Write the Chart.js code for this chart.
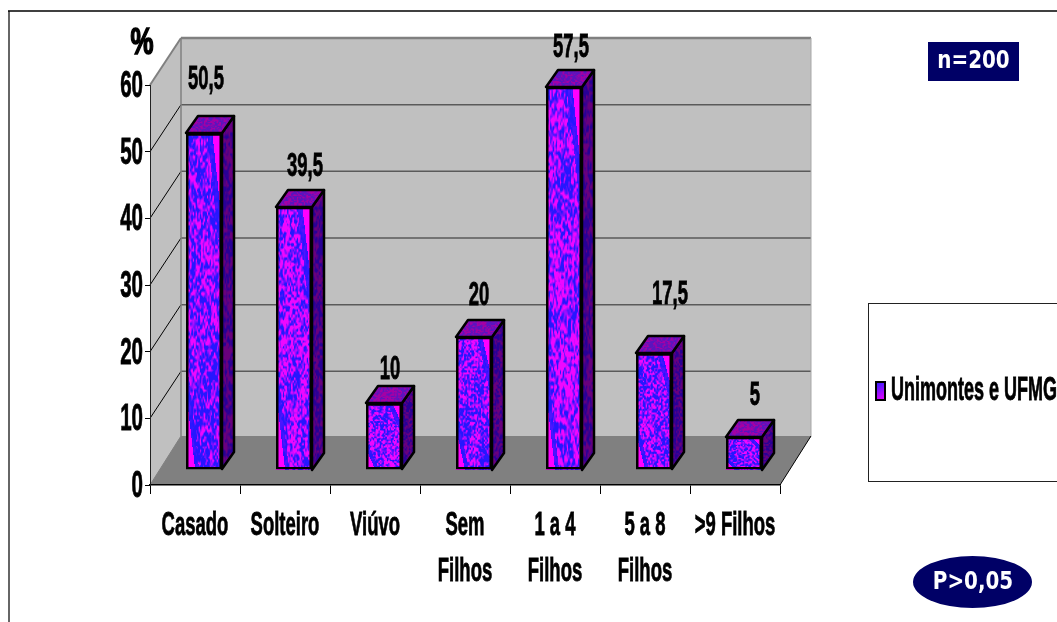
<!DOCTYPE html>
<html lang="pt-BR">
<head>
    <meta charset="UTF-8">
    <title>Unimontes e UFMG</title>
    <script src="https://cdn.jsdelivr.net/npm/chart.js"></script>
    <style>
        html, body { margin: 0; padding: 0; background: #fff; overflow: hidden; }
        canvas { display: block; }
    </style>
</head>
<body>
    <canvas id="myChart" width="1057" height="622"></canvas>

    <script>
        // dados
        const categories = ['Casado', 'Solteiro', 'Viúvo', ['Sem', 'Filhos'], ['1 a 4', 'Filhos'], ['5 a 8', 'Filhos'], '>9 Filhos'];
        const values = [50.5, 39.5, 10, 20, 57.5, 17.5, 5];
        const seriesName = 'Unimontes e UFMG';
        const yAxisTitle = '%';
        const sampleNote = 'n=200';
        const pValueNote = 'P>0,05';

        // where each value label sits, relative to the back corner of its bar top
        const labelOffsets = [[2, -27], [11, -14], [6, -7], [5, -15], [7, -13], [16, -32], [11, -15]];

        // fake 3D box: depth of the walls, and where a bar sits on the floor
        const WALL_DX = 31, WALL_DY = 47, FLOOR_DY = 49;
        const BAR_SHIFT_X = 9, BAR_SHIFT_Y = 15;
        const BAR_DX = 12, BAR_DY = 17;
        const FONT = '"Liberation Sans", Arial, sans-serif';
        const BADGE_FONT = '"DejaVu Sans", Verdana, sans-serif';

        function hash(i, j, seed) {
            const s = Math.sin(i * 127.1 + j * 311.7 + seed * 74.7) * 43758.5453;
            return s - Math.floor(s);
        }

        function noise(x, y, seed) {
            const i = Math.floor(x), j = Math.floor(y);
            const fx = x - i, fy = y - j;
            const a = hash(i, j, seed), b = hash(i + 1, j, seed);
            const c = hash(i, j + 1, seed), d = hash(i + 1, j + 1, seed);
            return (a * (1 - fx) + b * fx) * (1 - fy) + (c * (1 - fx) + d * fx) * fy;
        }

        function mix(c1, c2, t) {
            return [0, 1, 2].map(k => c1[k] + (c2[k] - c1[k]) * t);
        }

        // mottled blue/magenta fill, like the old office "textured" bars
        function makeTexture(w, h, seed, dark, light, wedges) {
            const cv = document.createElement('canvas');
            cv.width = w; cv.height = h;
            const c = cv.getContext('2d');
            const img = c.createImageData(w, h);
            const stretch = 1.1 + h / 150;
            for (let y = 0; y < h; y++) {
                for (let x = 0; x < w; x++) {
                    let t = noise(x / 1.4, y / stretch, seed);
                    t += (noise(x / 9, y / 30, seed + 5) - 0.5) * 0.35;
                    t = Math.min(1, Math.max(0, (t - 0.29) * 2.2));
                    let col = mix(dark, light, t);
                    if (wedges) {
                        const xx = x / w;
                        // bright wedge in the upper right corner, with a blue band next to it
                        const upperH = Math.min(0.33 * h, 95);
                        const upper = (xx - 0.72 - 0.28 * y / upperH) * w;
                        if (upper > 0) col = [255, 0, 255];
                        else if (upper > -5) col = mix(col, dark, 0.8);
                        // and the same in the lower left corner
                        const lowerH = Math.min(0.3 * h, 75);
                        const lower = (0.24 - (h - y) / lowerH * 0.24 - xx) * w;
                        if (lower > 0) col = [255, 0, 255];
                        else if (lower > -4) col = mix(col, dark, 0.8);
                    }
                    const p = (y * w + x) * 4;
                    img.data[p] = col[0];
                    img.data[p + 1] = col[1];
                    img.data[p + 2] = col[2];
                    img.data[p + 3] = 255;
                }
            }
            c.putImageData(img, 0, 0);
            return cv;
        }

        function fillPoly(ctx, pts, color) {
            ctx.beginPath();
            pts.forEach((p, i) => i ? ctx.lineTo(p[0], p[1]) : ctx.moveTo(p[0], p[1]));
            ctx.closePath();
            ctx.fillStyle = color;
            ctx.fill();
        }

        function line(ctx, x1, y1, x2, y2, color, width) {
            ctx.beginPath();
            ctx.moveTo(x1, y1);
            ctx.lineTo(x2, y2);
            ctx.strokeStyle = color;
            ctx.lineWidth = width;
            ctx.stroke();
        }

        // the labels are a squeezed Arial Bold, so they are scaled horizontally
        function narrowText(ctx, text, x, y, size, squeeze, align, weight) {
            ctx.save();
            ctx.translate(x, y);
            ctx.scale(squeeze, 1);
            ctx.font = 'bold ' + size + 'px ' + FONT;
            ctx.textAlign = align;
            ctx.textBaseline = 'alphabetic';
            ctx.fillStyle = '#000';
            ctx.fillText(text, 0, 0);
            ctx.strokeStyle = '#000';
            ctx.lineWidth = weight || 0.8;
            ctx.strokeText(text, 0, 0);
            ctx.restore();
        }

        function badgeText(ctx, text, x, y) {
            ctx.save();
            ctx.translate(x, y);
            ctx.scale(0.83, 1);
            ctx.font = 'bold 24px ' + BADGE_FONT;
            ctx.textAlign = 'center';
            ctx.textBaseline = 'middle';
            ctx.fillStyle = '#fff';
            ctx.fillText(text, 0, 0);
            ctx.restore();
        }

        // moves the bars off the front edge and onto the floor
        const floorShift = {
            id: 'floorShift',
            afterDatasetsUpdate(chart) {
                chart.getDatasetMeta(0).data.forEach(el => {
                    el.x += BAR_SHIFT_X;
                    el.y -= BAR_SHIFT_Y;
                    el.base -= BAR_SHIFT_Y;
                });
            }
        };

        // outer frame, side wall, back wall and floor
        const walls = {
            id: 'walls',
            beforeDraw(chart) {
                const ctx = chart.ctx;
                const { left, right, top, bottom } = chart.chartArea;
                const y = chart.scales.y;
                ctx.save();
                ctx.fillStyle = '#fff';
                ctx.fillRect(0, 0, chart.width, chart.height);
                line(ctx, 9, 11, 9, chart.height, '#333', 1.5);
                line(ctx, 8, 11, chart.width, 11, '#000', 1.5);

                fillPoly(ctx, [[left + WALL_DX, top - WALL_DY], [right + WALL_DX, top - WALL_DY], [right + WALL_DX, bottom - WALL_DY], [left + WALL_DX, bottom - WALL_DY]], '#c0c0c0');
                fillPoly(ctx, [[left, top], [left + WALL_DX, top - WALL_DY], [left + WALL_DX, bottom - WALL_DY], [left, bottom]], '#c0c0c0');

                y.ticks.forEach(t => {
                    const py = y.getPixelForValue(t.value);
                    if (t.value > 0) {
                        line(ctx, left, py, left + WALL_DX, py - WALL_DY, t.value === y.max ? '#808080' : '#000', t.value === y.max ? 2 : 1);
                        line(ctx, left + WALL_DX, py - WALL_DY, right + WALL_DX, py - WALL_DY, t.value === y.max ? '#808080' : '#5a5a5a', t.value === y.max ? 2.5 : 1.5);
                    }
                });
                line(ctx, left + WALL_DX, top - WALL_DY, left + WALL_DX, bottom - FLOOR_DY, '#808080', 1.5);
                line(ctx, right + WALL_DX, top - WALL_DY, right + WALL_DX, bottom - FLOOR_DY, '#a8a8a8', 1);

                fillPoly(ctx, [[left, bottom], [left + WALL_DX, bottom - FLOOR_DY], [right + WALL_DX, bottom - FLOOR_DY], [right, bottom]], '#808080');
                line(ctx, left, bottom, left + WALL_DX, bottom - FLOOR_DY, '#808080', 1);
                line(ctx, right, bottom, right + WALL_DX, bottom - FLOOR_DY, '#000', 1);
                ctx.restore();
            }
        };

        const BLUE = [38, 22, 255], MAGENTA = [238, 8, 255];
        const textures = [];

        // front texture, side and top of each bar; the outline comes from the bar element
        const barFaces = {
            id: 'barFaces',
            beforeDatasetsDraw(chart) {
                const ctx = chart.ctx;
                chart.getDatasetMeta(0).data.forEach((el, i) => {
                    const w = Math.round(el.width);
                    const h = Math.round(el.base - el.y);
                    const x0 = Math.round(el.x - w / 2);
                    const y0 = Math.round(el.y);
                    if (!textures[i]) {
                        textures[i] = {
                            front: makeTexture(w, h, i + 1, BLUE, MAGENTA, true),
                            side: makeTexture(BAR_DX + 1, h + BAR_DY, i + 11, [40, 0, 150], [105, 0, 125], false),
                            top: makeTexture(w + BAR_DX, BAR_DY + 1, i + 21, [90, 20, 190], [165, 0, 165], false)
                        };
                    }
                    const t = textures[i];
                    const sidePts = [[x0 + w, y0], [x0 + w + BAR_DX, y0 - BAR_DY], [x0 + w + BAR_DX, y0 + h - BAR_DY], [x0 + w, y0 + h]];
                    const topPts = [[x0, y0], [x0 + BAR_DX, y0 - BAR_DY], [x0 + w + BAR_DX, y0 - BAR_DY], [x0 + w, y0]];

                    ctx.save();
                    ctx.drawImage(t.front, x0, y0);
                    [[sidePts, t.side, x0 + w, y0 - BAR_DY], [topPts, t.top, x0, y0 - BAR_DY]].forEach(face => {
                        ctx.save();
                        ctx.beginPath();
                        face[0].forEach((p, k) => k ? ctx.lineTo(p[0], p[1]) : ctx.moveTo(p[0], p[1]));
                        ctx.closePath();
                        ctx.clip();
                        ctx.drawImage(face[1], face[2], face[3]);
                        ctx.restore();
                        ctx.beginPath();
                        face[0].forEach((p, k) => k ? ctx.lineTo(p[0], p[1]) : ctx.moveTo(p[0], p[1]));
                        ctx.closePath();
                        ctx.strokeStyle = '#000';
                        ctx.lineWidth = 2.5;
                        ctx.lineJoin = 'round';
                        ctx.stroke();
                    });
                    ctx.restore();
                });
            }
        };

        // axis labels, value labels, legend box and the two notes
        const texts = {
            id: 'texts',
            afterDraw(chart) {
                const ctx = chart.ctx;
                const x = chart.scales.x, y = chart.scales.y;

                y.ticks.forEach(t => {
                    narrowText(ctx, String(t.value), 143, y.getPixelForValue(t.value) + 12, 36, 0.57, 'right');
                });
                x.ticks.forEach((t, i) => {
                    [].concat(t.label).forEach((txt, k) => {
                        narrowText(ctx, txt, x.getPixelForTick(i), 535 + k * 46, 33, 0.56, 'center');
                    });
                });

                chart.getDatasetMeta(0).data.forEach((el, i) => {
                    const txt = String(values[i]).replace('.', ',');
                    const cx = el.x + labelOffsets[i][0];
                    const by = el.y - BAR_DY + labelOffsets[i][1];
                    narrowText(ctx, txt, cx, by, 33, 0.56, 'center');
                });

                narrowText(ctx, yAxisTitle, 142, 54, 36, 0.72, 'center', 1.6);

                // legend
                ctx.save();
                ctx.strokeStyle = '#222';
                ctx.lineWidth = 1;
                ctx.strokeRect(868.5, 303.5, 300, 178);
                const grad = ctx.createLinearGradient(875, 381, 886, 401);
                grad.addColorStop(0, '#2020ff');
                grad.addColorStop(1, '#ff00ff');
                ctx.fillStyle = grad;
                ctx.fillRect(876, 382, 9, 18);
                ctx.strokeStyle = '#000';
                ctx.lineWidth = 2;
                ctx.strokeRect(876, 382, 9, 18);
                ctx.restore();
                narrowText(ctx, chart.data.datasets[0].label, 891, 400, 33, 0.545, 'left');

                // notes
                ctx.save();
                ctx.fillStyle = '#000066';
                ctx.fillRect(928, 42, 91, 39);
                ctx.beginPath();
                ctx.ellipse(972.5, 582, 59.5, 26, 0, 0, Math.PI * 2);
                ctx.fill();
                ctx.restore();
                badgeText(ctx, sampleNote, 973.5, 62);
                badgeText(ctx, pValueNote, 973, 583);
            }
        };

        const config = {
            type: 'bar',
            data: {
                labels: categories,
                datasets: [{
                    label: seriesName,
                    data: values,
                    backgroundColor: 'rgba(0,0,0,0)', // faces are painted by barFaces
                    borderColor: '#000',
                    borderWidth: 2.5,
                    borderSkipped: false,
                    barPercentage: 0.4,
                    categoryPercentage: 1,
                    clip: false
                }]
            },
            options: {
                responsive: false,
                animation: false,
                layout: { padding: { top: 85, right: 277, left: 0, bottom: 0 } },
                plugins: { legend: { display: false }, tooltip: { enabled: false } },
                scales: {
                    x: {
                        offset: true,
                        afterFit(s) { s.height = 137; },
                        ticks: { display: false },
                        border: { color: '#000', width: 1.5 },
                        grid: { offset: true, drawOnChartArea: false, color: '#000', tickLength: 9 }
                    },
                    y: {
                        min: 0,
                        max: 60,
                        afterFit(s) { s.width = 150; },
                        ticks: { display: false, stepSize: 10 },
                        border: { color: '#222', width: 1 },
                        grid: { drawOnChartArea: false, color: '#000', tickLength: 5 }
                    }
                }
            },
            plugins: [floorShift, walls, barFaces, texts]
        };

        const ctx = document.getElementById('myChart').getContext('2d');
        const chart = new Chart(ctx, config);
    </script>
</body>
</html>
